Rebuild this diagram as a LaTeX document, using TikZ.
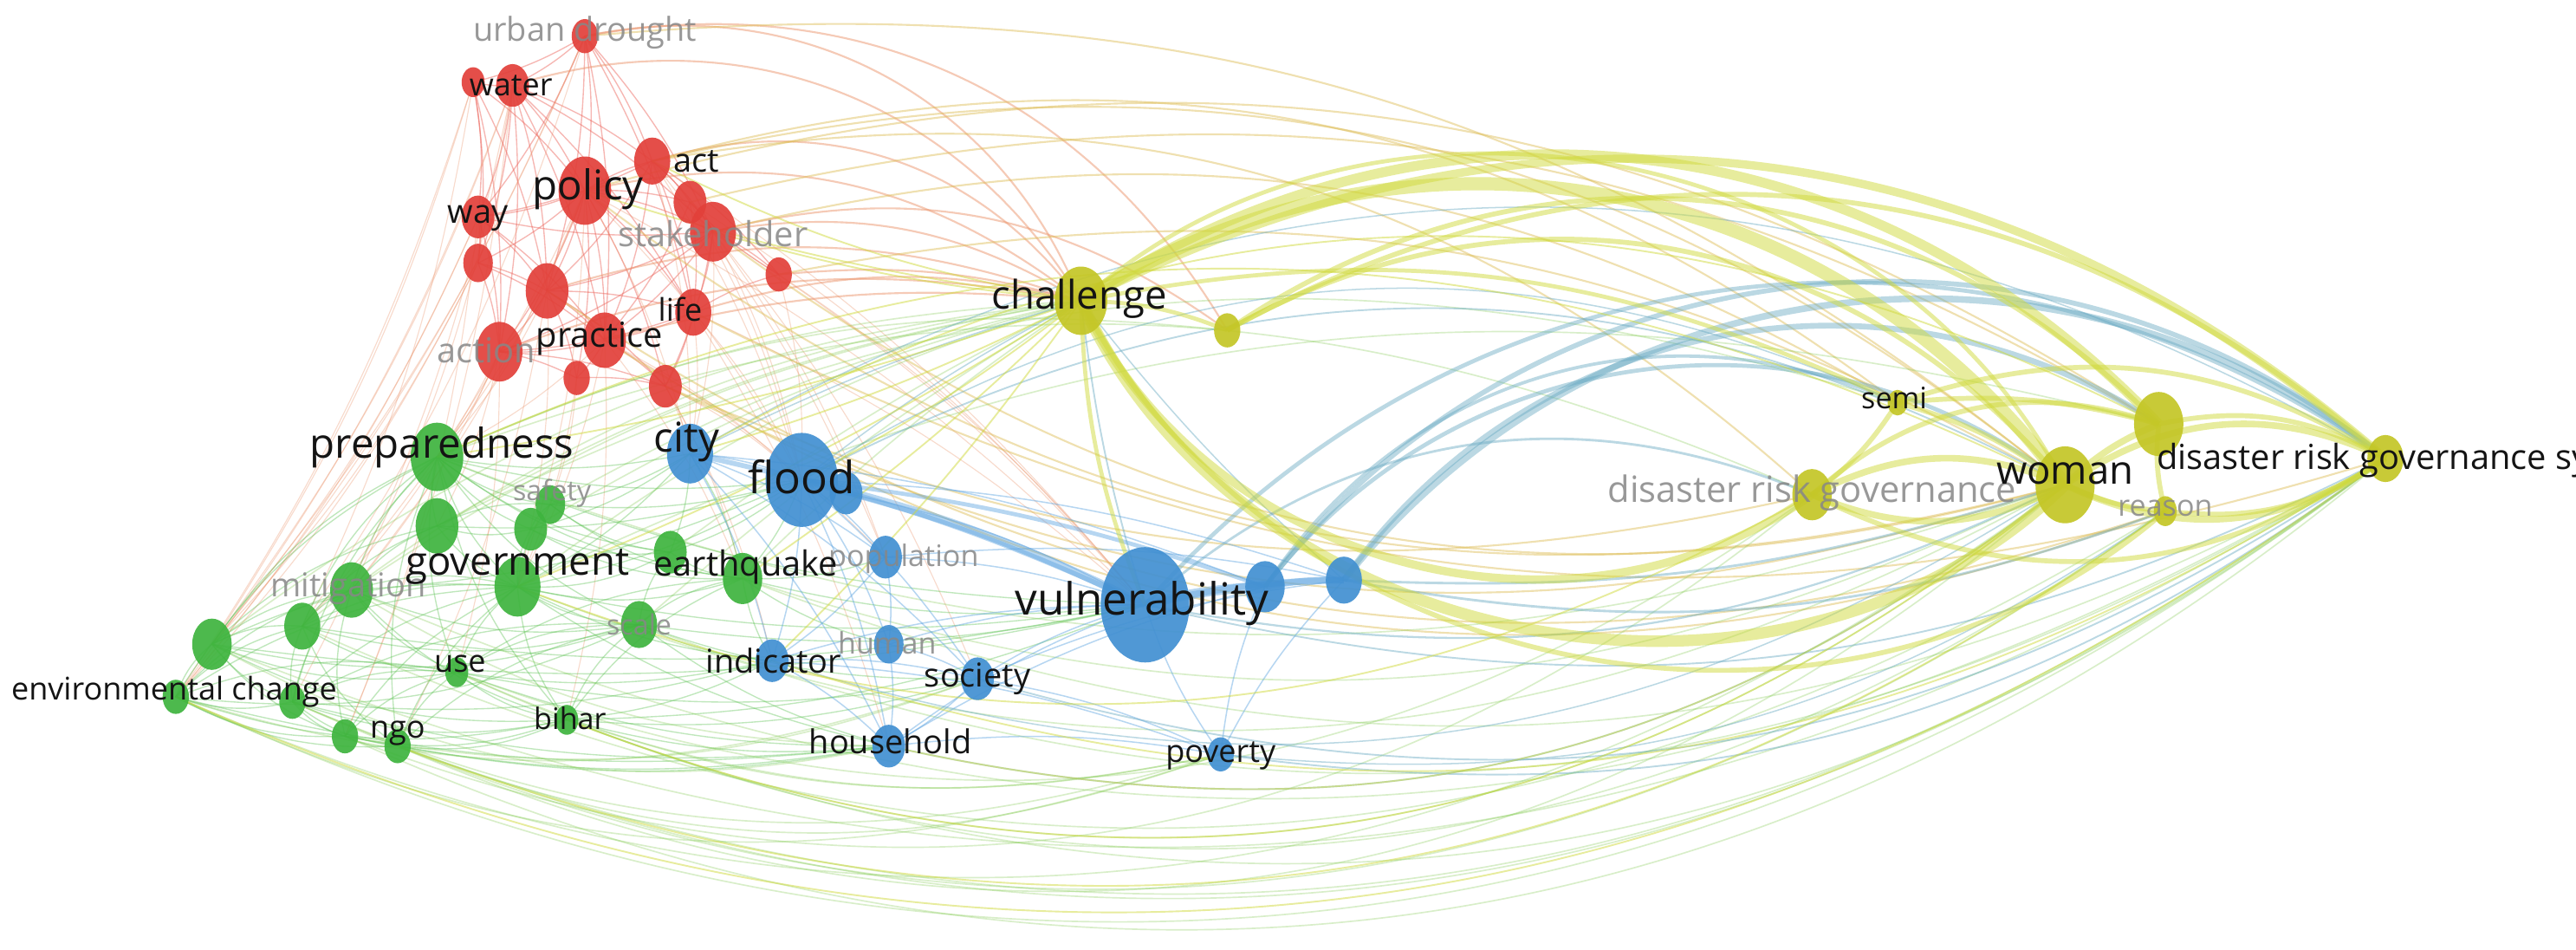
\documentclass[tikz,border=0pt]{standalone}
\usepackage{fontspec}
\setmainfont{Open Sans}
\usetikzlibrary{shapes.geometric}
\definecolor{redN}{RGB}{226,64,58}
\definecolor{greenN}{RGB}{62,180,62}
\definecolor{blueN}{RGB}{66,144,210}
\definecolor{yelN}{RGB}{196,198,38}
\definecolor{redE}{RGB}{236,95,85}
\definecolor{orgE}{RGB}{236,150,110}
\definecolor{greenE}{RGB}{95,195,85}
\definecolor{blueE}{RGB}{95,165,225}
\definecolor{tealE}{RGB}{105,170,195}
\definecolor{yelE}{RGB}{208,218,60}
\definecolor{glab}{RGB}{135,135,135}
\pgfdeclarelayer{bg}
\pgfdeclarelayer{edges}
\pgfsetlayers{bg,edges,main}
\tikzset{
  nd/.style 2 args={ellipse, inner sep=0pt, draw=none, fill=#1, fill opacity=0.92, minimum width=#2*0.5pt, minimum height=#2*0.65pt},
  lab/.style={font=\fontsize{#1}{#1}\selectfont, inner sep=0pt, text=black!92},
  glabel/.style={font=\fontsize{#1}{#1}\selectfont, inner sep=0pt, text=glab, text opacity=0.85},
  eR/.style={draw=redE, line width=0.18pt, draw opacity=0.45},
  eRo/.style={draw=orgE, line width=0.15pt, draw opacity=0.35},
  eRY/.style={draw=orgE, line width=0.28pt, draw opacity=0.5},
  eRYl/.style={draw=orgE!45!yelE, line width=0.28pt, draw opacity=0.45},
  eG/.style={draw=greenE, line width=0.18pt, draw opacity=0.4},
  eGl/.style={draw=greenE!70!yelE, line width=0.22pt, draw opacity=0.3},
  eB/.style={draw=blueE, line width=0.2pt, draw opacity=0.45},
  eT/.style={draw=tealE, draw opacity=0.45},
  eY/.style={draw=yelE, draw opacity=0.5},
}
\begin{document}
\begin{tikzpicture}[x=0.25pt,y=0.25pt]
\begin{pgfonlayer}{bg}
\fill[white] (0,0) rectangle (1568,-578);
\end{pgfonlayer}
\path[use as bounding box] (0,0) rectangle (1568,-578);
\clip (0,0) rectangle (1568,-578);
% ---------- nodes: red cluster
\node[nd={redN}{8}]  (ud)   at (356,-22) {};
\node[nd={redN}{10}] (wat)  at (312,-52) {};
\node[nd={redN}{7}]  (wat2) at (288,-50) {};
\node[nd={redN}{11}] (act)  at (397,-98) {};
\node[nd={redN}{10}] (r5)   at (420,-123) {};
\node[nd={redN}{16}] (pol)  at (356,-116) {};
\node[nd={redN}{10}] (way)  at (291,-132) {};
\node[nd={redN}{14}] (stk)  at (434,-141) {};
\node[nd={redN}{9}]  (r9)   at (291,-160) {};
\node[nd={redN}{13}] (r10)  at (333,-177) {};
\node[nd={redN}{8}]  (r11)  at (474,-167) {};
\node[nd={redN}{11}] (life) at (422,-190) {};
\node[nd={redN}{13}] (prac) at (368,-207) {};
\node[nd={redN}{14}] (actn) at (304,-214) {};
\node[nd={redN}{8}]  (r15)  at (351,-230) {};
\node[nd={redN}{10}] (r16)  at (405,-235) {};
% ---------- green cluster
\node[nd={greenN}{16}] (prep) at (266,-278) {};
\node[nd={greenN}{9}]  (saf)  at (335,-307) {};
\node[nd={greenN}{13}] (g3)   at (266,-320) {};
\node[nd={greenN}{10}] (g4)   at (323,-322) {};
\node[nd={greenN}{14}] (gov)  at (315,-357) {};
\node[nd={greenN}{10}] (g6)   at (408,-336) {};
\node[nd={greenN}{12}] (eq)   at (452,-352) {};
\node[nd={greenN}{13}] (mit)  at (214,-359) {};
\node[nd={greenN}{11}] (g9)   at (184,-381) {};
\node[nd={greenN}{12}] (g10)  at (129,-392) {};
\node[nd={greenN}{11}] (scl)  at (389,-380) {};
\node[nd={greenN}{7}]  (use)  at (278,-409) {};
\node[nd={greenN}{8}]  (env)  at (107,-424) {};
\node[nd={greenN}{8}]  (g14)  at (178,-427) {};
\node[nd={greenN}{8}]  (ngo1) at (210,-448) {};
\node[nd={greenN}{8}]  (ngo)  at (242,-454) {};
\node[nd={greenN}{7}]  (bih)  at (345,-438) {};
% ---------- blue cluster
\node[nd={blueN}{14}] (city) at (420,-276) {};
\node[nd={blueN}{22}] (fld)  at (488,-292) {};
\node[nd={blueN}{10}] (fld2) at (515,-300) {};
\node[nd={blueN}{10}] (pop)  at (539,-339) {};
\node[nd={blueN}{10}] (ind)  at (470,-402) {};
\node[nd={blueN}{9}]  (hum)  at (541,-392) {};
\node[nd={blueN}{10}] (soc)  at (595,-413) {};
\node[nd={blueN}{10}] (hh)   at (541,-454) {};
\node[nd={blueN}{27}] (vul)  at (697,-368) {};
\node[nd={blueN}{12}] (b10)  at (770,-357) {};
\node[nd={blueN}{11}] (b11)  at (818,-353) {};
\node[nd={blueN}{8}]  (pov)  at (743,-459) {};
% ---------- yellow cluster
\node[nd={yelN}{16}] (chal) at (658,-183) {};
\node[nd={yelN}{8}]  (y2)   at (747,-201) {};
\node[nd={yelN}{6}]  (semi) at (1155,-245) {};
\node[nd={yelN}{12}] (drg)  at (1103,-301) {};
\node[nd={yelN}{18}] (wom)  at (1257,-295) {};
\node[nd={yelN}{15}] (y6)   at (1314,-258) {};
\node[nd={yelN}{7}]  (rea)  at (1318,-311) {};
\node[nd={yelN}{11}] (drgs) at (1452,-279) {};

\begin{pgfonlayer}{edges}
% red internal
\foreach \s/\t in {ud/wat, ud/wat2, ud/pol, ud/act, ud/stk, ud/way, ud/prac, ud/r10, ud/life, wat/wat2, wat/pol, wat/way, wat/act, wat/stk, wat/prac, wat/r10, wat/life, wat/actn, wat/r9, wat2/way, wat2/actn, wat2/r9, wat2/pol, wat2/r10, pol/act, pol/r5, pol/stk, pol/way, pol/r9, pol/r10, pol/prac, pol/life, pol/actn, pol/r15, pol/r16, act/r5, act/stk, act/life, act/prac, act/r10, act/r11, act/way, r5/stk, r5/life, r5/prac, stk/life, stk/prac, stk/r11, stk/r10, stk/actn, stk/r16, stk/way, way/r9, way/r10, way/actn, way/prac, r9/actn, r9/r10, r9/prac, r10/prac, r10/life, r10/actn, r10/r15, r10/r16, life/prac, life/r16, life/r11, life/actn, prac/actn, prac/r15, prac/r16, actn/r15, actn/r16, r15/r16, r11/r5}
  \draw[eR] (\s.center) to[bend left=8] (\t.center);
% red to green / blue
\foreach \s/\t in {wat/env, wat/g10, wat2/g10, wat2/env, ud/g9, wat/mit, way/g10, way/env, wat2/g9, pol/prep, pol/gov, pol/mit, actn/prep, actn/g3, actn/mit, prac/gov, prac/prep, r9/g10, r9/env, r10/prep, r10/gov, life/city, stk/city, stk/fld, pol/fld, act/fld, r16/city, r16/fld, prac/fld, life/fld, actn/g9, r15/gov, r15/saf, r16/eq, prac/eq, stk/vul, pol/vul, life/vul, act/vul, r11/vul, r11/fld, way/ngo1, wat/ngo1, ud/env, actn/use, prac/bih, r10/ngo, life/hh, stk/soc, pol/city, act/city, r5/fld, r5/vul, prac/pop, stk/pop, r16/ind, act/pop, ud/g10, wat/g14, pol/g9}
  \draw[eRo] (\s.center) to[bend left=8] (\t.center);
% red to yellow arcs (near)
\foreach \s/\t/\b in {ud/chal/40, ud/y2/35, wat/chal/38, act/chal/35, pol/chal/25, stk/chal/20, life/chal/15, r11/chal/10, prac/chal/10, r10/chal/18, actn/chal/15, stk/y2/25}
  \draw[eRY] (\s.center) to[bend left=\b] (\t.center);
% red to yellow arcs (far, fading to yellow)
\foreach \s/\t/\b in {ud/wom/22, act/wom/26, act/drg/26, act/semi/26, stk/semi/22, r5/y6/22, r11/wom/20, pol/y6/24, stk/wom/-26, life/drgs/-22, prac/rea/-26, r16/wom/-22, r16/drg/-18, pol/wom/-26, r10/rea/-26}
  \draw[eRYl] (\s.center) to[bend left=\b] (\t.center);
% green internal
\foreach \s/\t in {prep/saf, prep/g3, prep/g4, prep/gov, prep/mit, prep/g9, prep/g10, prep/eq, prep/g6, prep/scl, prep/use, prep/env, prep/ngo, prep/bih, prep/g14, saf/g3, saf/g4, saf/gov, saf/g6, saf/eq, g3/g4, g3/gov, g3/mit, g3/g9, g3/g10, g4/gov, g4/g6, g4/eq, gov/g6, gov/eq, gov/mit, gov/g9, gov/g10, gov/scl, gov/use, gov/env, gov/g14, gov/ngo1, gov/ngo, gov/bih, g6/eq, g6/scl, eq/scl, eq/bih, eq/use, mit/g9, mit/g10, mit/use, mit/env, mit/g14, mit/ngo1, g9/g10, g9/env, g9/g14, g9/use, g9/ngo, g10/env, g10/g14, g10/ngo1, g10/use, scl/use, scl/bih, scl/ngo, scl/g14, use/env, use/g14, use/ngo1, use/ngo, use/bih, env/g14, env/ngo1, env/ngo, env/bih, g14/ngo1, g14/ngo, g14/bih, ngo1/ngo, ngo1/bih, ngo/bih, mit/scl, g9/scl, g10/scl, g10/bih, env/scl, mit/bih}
  \draw[eG] (\s.center) to[bend right=15] (\t.center);
% green to blue
\foreach \s/\t in {ngo/hh, bih/hh, use/ind, gov/fld, gov/vul, prep/city, prep/fld, eq/fld, eq/ind, eq/vul, scl/ind, scl/hh, bih/soc, env/hh, g10/vul, g9/vul, gov/city, g6/city, g6/fld, saf/city, saf/fld, eq/pop, eq/hum, scl/soc, use/hh, ngo1/hh, g14/hh, mit/fld, g3/fld, gov/ind, gov/hh, bih/ind, g4/city, eq/city, scl/vul, prep/vul, bih/vul, use/soc, g14/ind}
  \draw[eG] (\s.center) to[bend right=10] (\t.center);
\foreach \s/\t/\b in {ngo/pov/-20, env/pov/-22, bih/pov/-15, g14/pov/-20, use/pov/-18, ngo1/soc/-15, env/soc/-18, g10/hh/-20, mit/hh/-15}
  \draw[eGl] (\s.center) to[bend left=\b] (\t.center);
% green to yellow
\foreach \s/\t/\b in {prep/chal/10, gov/chal/10, eq/chal/5, g3/chal/10, saf/chal/8, scl/chal/5, g6/chal/5, g4/chal/8, prep/drg/22, g3/semi/22, gov/y6/20, prep/y2/15, mit/chal/12, g9/chal/15, g10/chal/15, ngo/drgs/-28, env/wom/-30, g10/drgs/-27, bih/wom/-30, use/rea/-30, ngo1/drg/-30, g14/drgs/-30, gov/wom/-25, mit/drgs/-27, eq/wom/-22, scl/drgs/-26, g9/rea/-28, ngo/wom/-32, bih/drgs/-29, env/drgs/-31, g14/rea/-30, prep/wom/-20, ngo1/drgs/-32, use/drg/-28, eq/drgs/-25}
  \draw[eGl] (\s.center) to[bend left=\b] (\t.center);
% blue internal
\foreach \s/\t in {city/fld, city/pop, city/ind, city/hh, city/soc, fld/pop, fld/ind, fld/hh, fld/soc, fld/hum, fld/fld2, fld2/vul, pop/vul, pop/ind, pop/hum, hum/soc, hum/hh, hum/vul, ind/hh, ind/soc, ind/vul, soc/hh, soc/vul, soc/pov, hh/vul, hh/pov, pov/vul, pov/b10, pov/b11, hh/b10, soc/b11, ind/pov, city/b10, fld/b11, pop/b11}
  \draw[eB] (\s.center) to[bend left=8] (\t.center);
\foreach \s/\t/\w in {fld/vul/5, vul/b10/6, vul/b11/4, b10/b11/4, city/vul/3, fld/b10/2.5}
  \draw[eB, line width=\w*0.25pt] (\s.center) to[bend left=6] (\t.center);
% blue to yellow
\foreach \s/\t/\b/\w in {b11/drgs/45/4, b10/drgs/46/3, vul/drgs/42/2.5, b11/y6/44/3.5, b10/wom/45/2.5, b10/semi/40/2, vul/drg/32/1.5, b11/wom/-10/1.5, vul/wom/-18/1.2, vul/drgs/-20/1, pov/drgs/-22/1, hh/wom/-25/1, soc/drgs/-25/1, fld/wom/28/1, fld/chal/5/0.8, city/chal/5/0.8, vul/chal/5/1, b11/chal/5/0.8, ind/wom/-25/0.8, pov/rea/-20/0.8, city/drgs/30/0.8, fld/semi/28/0.8, b11/rea/-15/1.5}
  \draw[eT, line width=\w*0.25pt] (\s.center) to[bend left=\b] (\t.center);
% yellow
\foreach \s/\t/\b/\w in {chal/wom/43/8, chal/wom/-55/7, chal/drgs/34/5, chal/y6/40/6, chal/drg/-50/5, chal/semi/18/2.5, chal/rea/-52/3, y2/wom/40/3, y2/drgs/35/3, y2/y6/40/3, chal/y2/10/2.5, wom/drgs/30/4, wom/drgs/-30/4, y6/drgs/20/3, drg/wom/25/4, drg/wom/-25/4, semi/wom/10/3, semi/drg/10/3, semi/y6/10/3, drg/drgs/-30/3, rea/drgs/-20/3, rea/wom/10/3, y6/rea/-10/3, drg/y6/30/3, semi/drgs/25/3, wom/y6/10/4, chal/wom/52/2.5, chal/pol/5/1, chal/prep/5/1, chal/gov/5/1, chal/fld/5/1, chal/city/5/1, chal/vul/-10/2.5, chal/ind/5/1, chal/eq/5/1, chal/stk/5/1, chal/act/8/1, drgs/env/30/1, wom/bih/30/1, rea/ngo/28/1, drg/gov/25/1, wom/hh/25/1, drgs/ind/25/1, y6/city/-28/1, wom/prep/-25/1}
  \draw[eY, line width=\w*0.25pt] (\s.center) to[bend left=\b] (\t.center);
\end{pgfonlayer}

% ---------- labels (faded first)
\node[glabel=5] (l-ud)   at (356,-20)  {urban drought};
\node[glabel=5.25] (l-stk)  at (434,-142) {stakeholder};
\node[glabel=5.25] (l-actn) at (296,-213) {action};
\node[glabel=4.25] (l-saf)  at (336,-300) {safety};
\node[glabel=4.5] (l-pop)  at (550,-340) {population};
\node[glabel=5] (l-mit)  at (212,-358) {mitigation};
\node[glabel=4.25] (l-scl)  at (389,-380) {scale};
\node[glabel=4.5] (l-hum)  at (540,-391) {human};
\node[glabel=5.5] (l-drg)  at (1103,-300) {disaster risk governance};
\node[glabel=4.5] (l-rea)  at (1318,-309) {reason};
% black labels
\node[lab=4.75] (l-wat)  at (311,-52)  {water};
\node[lab=5] (l-act)  at (424,-98)  {act};
\node[lab=6.25] (l-pol)  at (358,-115) {policy};
\node[lab=5] (l-way)  at (291,-133) {way};
\node[lab=4.75] (l-life) at (414,-188) {life};
\node[lab=5.25] (l-prac) at (365,-206) {practice};
\node[lab=6.25] (l-prep) at (269,-272) {preparedness};
\node[lab=6.25] (l-city) at (418,-269) {city};
\node[lab=6.75] (l-fld)  at (488,-290) {flood};
\node[lab=6] (l-gov)  at (315,-345) {government};
\node[lab=5.25] (l-eq)   at (454,-345) {earthquake};
\node[lab=6.75] (l-vul)  at (695,-367) {vulnerability};
\node[lab=5] (l-ind)  at (471,-402) {indicator};
\node[lab=5] (l-soc)  at (595,-413) {society};
\node[lab=4.75] (l-use)  at (280,-404) {use};
\node[lab=4.75] (l-env)  at (106,-421) {environmental change};
\node[lab=4.5] (l-bih)  at (347,-437) {bihar};
\node[lab=4.75] (l-ngo)  at (242,-446) {ngo};
\node[lab=5] (l-hh)   at (542,-451) {household};
\node[lab=4.75] (l-pov)  at (743,-460) {poverty};
\node[lab=6] (l-chal) at (657,-182) {challenge};
\node[lab=4.5] (l-semi) at (1153,-242) {semi};
\node[lab=6] (l-wom)  at (1257,-288) {woman};
\node[lab=5.25, anchor=west] (l-drgs) at (1312,-280) {disaster risk governance system};
\end{tikzpicture}
\end{document}
